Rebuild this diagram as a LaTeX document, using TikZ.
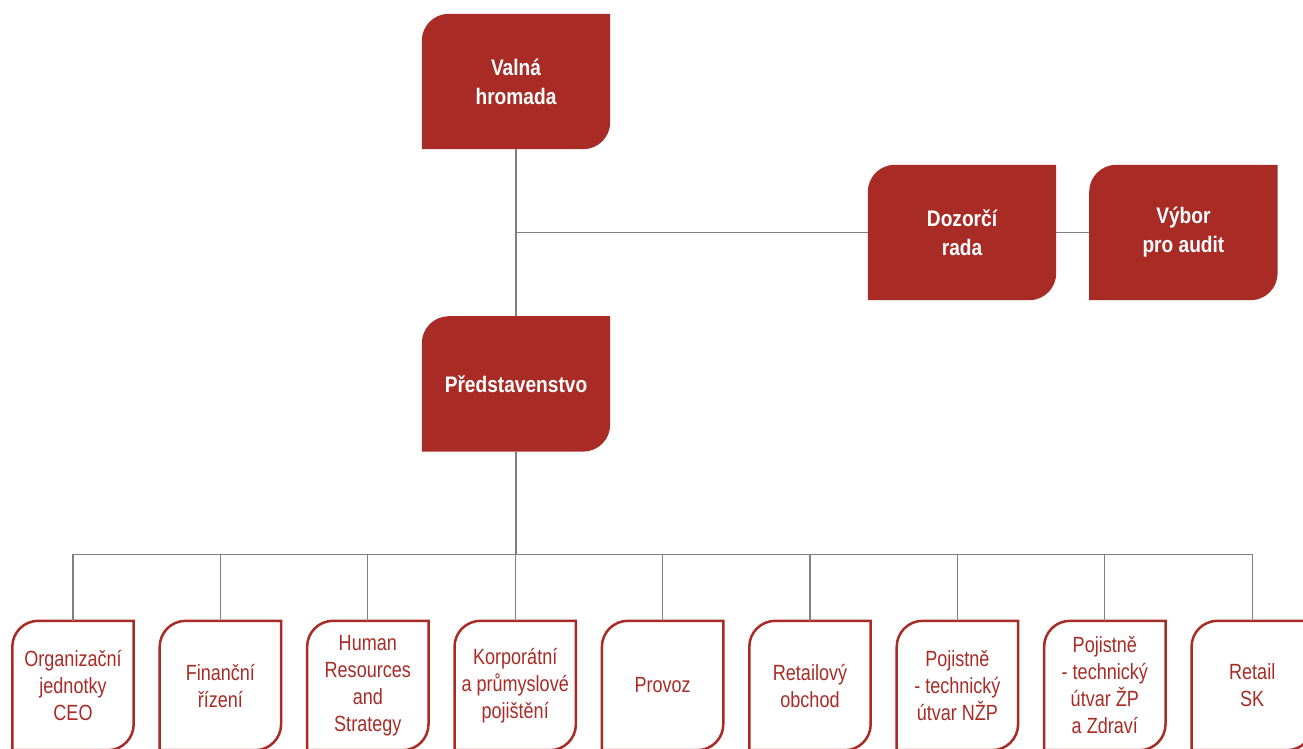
\documentclass[tikz,border=0pt]{standalone}
\usepackage{fontspec}
\setmainfont{Liberation Sans}[FakeStretch=0.82, BoldFeatures={FakeStretch=0.85}]
\usetikzlibrary{positioning,backgrounds}
\definecolor{kred}{HTML}{A82B26}
\definecolor{kgrey}{HTML}{808080}

\begin{document}
\begin{tikzpicture}[x=1pt,y=1pt,
    topbox/.style={rectangle, minimum width=188pt, minimum height=135pt, inner sep=0pt,
      align=center, text=white, font=\fontsize{22.5}{29}\selectfont\bfseries},
    unitbox/.style={rectangle, minimum width=121pt, minimum height=129pt, inner sep=0pt,
      align=center, text=kred, font=\fontsize{22}{27}\selectfont},
    conn/.style={draw=kgrey, line width=1.3pt}]

  \useasboundingbox (0,0) rectangle (1303,-748);

  % Define nodes
  \node[topbox]                     (vh) at (516,-81.5) {Valná\\hromada};
  \node[topbox, below=167pt of vh]  (pr) {Představenstvo};
  \node[topbox]                     (dr) at (962,-232.5) {Dozorčí\\rada};
  \node[topbox, right=33pt of dr]   (va) {Výbor\\pro audit};
  \coordinate[below=103pt of pr.south] (bus);

  \foreach \t [count=\i] in {{Organizační\\jednotky\\CEO}, {Finanční\\řízení},
      {Human\\Resources\\and\\Strategy}, {Korporátní\\a průmyslové\\pojištění},
      {Provoz}, {Retailový\\obchod}, {Pojistně\\- technický\\útvar NŽP},
      {Pojistně\\- technický\\útvar ŽP\\a Zdraví}, {Retail\\SK}}
    \node[unitbox] (u\i) at ({73+147.4*(\i-1)},-685.5) {\t};

  % Box outlines
  \begin{pgfonlayer}{background}
    \foreach \n in {vh,pr,dr,va}
      \fill[kred] (\n.south west) -- ([yshift=-27pt]\n.north west)
        arc[start angle=180, end angle=90, radius=27pt] -- (\n.north east)
        -- ([yshift=27pt]\n.south east)
        arc[start angle=0, end angle=-90, radius=27pt] -- cycle;
    \foreach \i in {1,...,9}
      \draw[kred, line width=2.5pt] (u\i.south west) -- ([yshift=-26pt]u\i.north west)
        arc[start angle=180, end angle=90, radius=26pt] -- (u\i.north east)
        -- ([yshift=26pt]u\i.south east)
        arc[start angle=0, end angle=-90, radius=26pt] -- cycle;
  \end{pgfonlayer}

  % Connect the nodes
  \draw[conn] (vh) -- (pr);
  \draw[conn] (dr.west) -- (dr.west -| vh.south);
  \draw[conn] (dr) -- (va);
  \draw[conn] (pr) -- (bus);
  \foreach \i in {1,...,9}
    \draw[conn] (bus) -| (u\i.north);

\end{tikzpicture}
\end{document}
